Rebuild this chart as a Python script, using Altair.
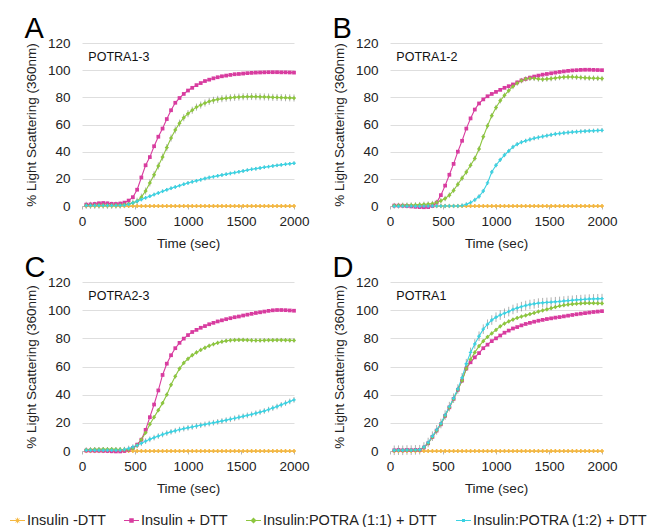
import altair as alt
import pandas as pd

# ---------------- data ----------------
TIME = list(range(40, 2001, 40))  # sampling times (sec), 50 readings

SERIES = ["Insulin -DTT", "Insulin + DTT",
          "Insulin:POTRA (1:1) + DTT", "Insulin:POTRA (1:2) + DTT"]
COLORS = ["#F5B841", "#D83C9F", "#8DC63F", "#3CD2E2"]
PLOT_SHAPES = ["cross", "square", "diamond", "cross"]

NO_DTT = [0.0, 0.0, 0.0, 0.0, 0.0, 0.0, 0.0, 0.0, 0.0, 0.0,
          0.0, 0.0, 0.0, 0.0, 0.0, 0.0, 0.0, 0.0, 0.0, 0.0,
          0.0, 0.0, 0.0, 0.0, 0.0, 0.0, 0.0, 0.0, 0.0, 0.0,
          0.0, 0.0, 0.0, 0.0, 0.0, 0.0, 0.0, 0.0, 0.0, 0.0,
          0.0, 0.0, 0.0, 0.0, 0.0, 0.0, 0.0, 0.0, 0.0, 0.0]

# Panel A: POTRA1-3
A_DTT = [1.0, 1.2, 1.5, 2.0, 2.2, 2.0, 1.6, 1.5, 1.8, 2.5,
         4.0, 6.5, 12, 21, 30, 36, 44, 51, 57, 64,
         70.5, 76, 79.5, 82.5, 85, 87, 89, 90.5, 92, 93,
         94, 94.8, 95.5, 96, 96.5, 97, 97.2, 97.5, 97.8, 98,
         98.2, 98.3, 98.4, 98.5, 98.5, 98.5, 98.4, 98.4, 98.3, 98.2]
A_P11 = [0.5, 0.5, 0.5, 0.6, 0.6, 0.5, 0.5, 0.6, 0.7, 1.0,
         1.5, 2.3, 3.5, 6.5, 11, 17, 23, 29.5, 36, 43,
         50, 56, 61, 65, 68, 70.5, 72.8, 74.3, 75.8, 77,
         77.8, 78.5, 79, 79.4, 79.7, 80, 80.2, 80.4, 80.5, 80.6,
         80.5, 80.4, 80.3, 80.2, 80, 79.9, 79.8, 79.7, 79.6, 79.5]
A_P12 = [0.3, 0.3, 0.3, 0.3, 0.3, 0.3, 0.3, 0.3, 0.4, 0.5,
         1.2, 2.3, 3.5, 4.8, 6, 7.2, 8.4, 9.6, 10.8, 12,
         13, 14, 15, 16, 17, 17.8, 18.6, 19.4, 20.2, 21,
         21.6, 22.2, 22.8, 23.4, 24, 24.6, 25.2, 25.8, 26.4, 27,
         27.5, 28, 28.5, 29, 29.5, 29.9, 30.3, 30.7, 31.1, 31.5]
A_ERR = [0, 0.5, 2.6, 1.3]

# Panel B: POTRA1-2
B_DTT = [0.3, 0.3, 0.2, 0, -0.3, -0.6, -0.8, -0.9, -0.8, 0,
         2.5, 8, 15, 23, 31, 40, 48, 57, 64.5, 71,
         75.5, 78.5, 80.8, 82.5, 84, 85.5, 87, 88.2, 89.5, 91,
         92.5, 93.5, 94.5, 95.3, 96, 96.7, 97.2, 97.7, 98.2, 98.7,
         99.1, 99.5, 99.8, 100, 100.2, 100.3, 100.3, 100.2, 100.1, 100]
B_P11 = [0.3, 0.4, 0.5, 0.6, 0.7, 0.8, 1.0, 1.2, 1.4, 1.8,
         2.6, 3.8, 5.5, 8, 11.5, 16, 20.5, 25, 30, 35,
         42, 51, 59, 66.5, 72.5, 77.5, 81.5, 85, 88, 90.5,
         92.3, 93.5, 94, 94, 93.5, 93.3, 93.5, 93.8, 94.2, 94.6,
         94.9, 95, 95, 94.8, 94.6, 94.4, 94.2, 94.1, 94, 93.8]
B_P12 = [-0.2, -0.2, -0.1, -0.2, -0.1, -0.2, -0.2, -0.1, -0.1, 0,
         0, 0, 0, 0, 0, 0, 0.3, 1.2, 2.5, 4.5,
         7, 11, 17, 25, 30, 34, 37.5, 40.5, 43.5, 45.5,
         47, 48, 49, 49.8, 50.5, 51.2, 51.8, 52.4, 53, 53.4,
         53.8, 54.1, 54.4, 54.7, 54.9, 55.1, 55.3, 55.4, 55.6, 55.7]
B_ERR = [0, 0.5, 2.0, 1.6]

# Panel C: POTRA2-3
C_DTT = [0.3, 0.3, 0.2, 0.2, 0.1, 0, -0.2, -0.3, -0.3, 0,
         0.8, 2.2, 4.5, 8, 15, 24, 33, 43, 54, 62,
         68, 73, 76.8, 79.8, 82.3, 84.5, 86, 87.5, 88.7, 90,
         91, 92, 92.8, 93.6, 94.3, 95, 95.5, 96.2, 96.8, 97.4,
         98, 98.5, 99, 99.5, 99.9, 100.1, 100.1, 100, 99.8, 99.6]
C_P11 = [0.8, 1.0, 1.2, 1.2, 1.3, 1.2, 1.3, 1.2, 1.1, 1.0,
         1.2, 1.8, 4, 8, 13, 19, 24, 29, 34, 40,
         47, 53, 58.5, 62.5, 65.5, 68, 70, 71.8, 73.3, 74.7,
         75.8, 76.8, 77.6, 78.2, 78.6, 78.8, 78.9, 78.9, 78.8, 78.6,
         78.5, 78.5, 78.6, 78.7, 78.7, 78.8, 78.8, 78.7, 78.6, 78.5]
C_P12 = [0.5, 0.5, 0.5, 0.5, 0.5, 0.5, 0.5, 0.5, 0.6, 1.0,
         1.8, 2.8, 4, 5.5, 7, 8.3, 9.5, 10.6, 11.7, 12.7,
         13.6, 14.4, 15.2, 15.9, 16.5, 17.1, 17.7, 18.3, 18.9, 19.5,
         20.1, 20.7, 21.3, 21.9, 22.5, 23.2, 23.9, 24.6, 25.3, 26,
         26.8, 27.6, 28.4, 29.4, 30.5, 31.6, 32.8, 34, 35.2, 36.3]
C_ERR = [0, 0.5, 1.5, 2.0]

# Panel D: POTRA1
D_DTT = [0.5, 0.8, 0.5, 0.8, 0.6, 0.8, 0.8, 2.5, 5.5, 10,
         14.5, 19, 25, 31, 37, 43.5, 50, 58.5, 63, 66.5,
         69.5, 73, 75.5, 78, 80, 82, 84, 85.5, 87, 88,
         89.2, 90.2, 91, 91.8, 92.5, 93.1, 93.7, 94.2, 94.7, 95.1,
         95.6, 96.1, 96.6, 97.1, 97.5, 97.9, 98.3, 98.7, 99, 99.3]
D_P11 = [0.3, 0.5, 0.4, 0.6, 0.5, 0.7, 0.8, 2.5, 5.5, 10,
         14.5, 19, 25, 31, 37, 43.5, 50, 58.5, 65, 70,
         74.5, 78, 81, 83.5, 86, 88.5, 90.5, 92, 93.3, 94.5,
         95.5, 96.3, 97.2, 98, 99, 99.8, 100.6, 101.4, 102.2, 103,
         103.5, 104, 104.3, 104.6, 104.8, 105, 105, 105, 104.9, 104.8]
D_P12 = [0.5, 0.6, 0.5, 0.7, 0.6, 0.8, 0.9, 2.8, 6, 10.5,
         15, 19.5, 25.5, 31.5, 37.5, 44, 52, 62, 70, 76,
         81.5, 86.5, 90, 93, 95, 96.5, 97.8, 99, 100.5, 101.5,
         102.5, 103.3, 104, 104.5, 105, 105.3, 105.5, 105.7, 106, 106.2,
         106.5, 106.8, 107, 107.3, 107.5, 107.7, 107.9, 108, 108.1, 108.2]
D_ERR = [0, 0.6, 1.4, 3.4]

PANELS = [
    ("A", "POTRA1-3", [NO_DTT, A_DTT, A_P11, A_P12], A_ERR, 163),
    ("B", "POTRA1-2", [NO_DTT, B_DTT, B_P11, B_P12], B_ERR, 163),
    ("C", "POTRA2-3", [NO_DTT, C_DTT, C_P11, C_P12], C_ERR, 169),
    ("D", "POTRA1", [NO_DTT, D_DTT, D_P11, D_P12], D_ERR, 169),
]

X_TICKS = [0, 500, 1000, 1500, 2000]
Y_TICKS = [0, 20, 40, 60, 80, 100, 120]

# legend glyphs: short line with the marker on it (unit-square SVG paths)
BAR = "M-1,-0.07H1V0.07H-1Z "
STAR = ("M-0.06,-0.36H0.06V0.36H-0.06Z M-0.36,-0.06H0.36V0.06H-0.36Z "
        "M-0.3,-0.22L-0.22,-0.3L0.3,0.22L0.22,0.3Z M0.22,-0.3L0.3,-0.22L-0.22,0.3L-0.3,0.22Z")
LEGEND_SHAPES = [
    BAR + STAR,
    BAR + "M-0.3,-0.3H0.3V0.3H-0.3Z",
    BAR + "M0,-0.4L0.4,0L0,0.4L-0.4,0Z",
    BAR + "M-0.2,-0.2H0.2V0.2H-0.2Z",
]

FONT = "Liberation Sans"
W = 212

LEGEND = alt.Legend(title=None, orient="none", legendX=-72, legendY=470,
                    direction="horizontal")

XS = alt.Scale(domain=[0, 2000], nice=False, zero=False)
YS = alt.Scale(domain=[0, 120], nice=False)
XAXIS = alt.Axis(values=X_TICKS, format="d", title="Time (sec)", grid=False,
                 labelOverlap=False, labelFlush=False,
                 domainColor="#b5b5b5", tickColor="#b5b5b5", tickSize=3,
                 labelPadding=5, titlePadding=9, labelFontSize=13.5, titleFontSize=13.5)
YAXIS = alt.Axis(values=Y_TICKS, title="% Light Scattering (360nm)",
                 labelOverlap=False, labelFlush=False, gridColor="#dedede",
                 domain=False, ticks=False, labelPadding=12, titlePadding=9,
                 labelFontSize=13.5, titleFontSize=13.5)


def make_panel(letter, label, series_vals, errs, h):
    rows = []
    for name, vals, e in zip(SERIES, series_vals, errs):
        for t, v in zip(TIME, vals):
            rows.append({"t": t, "v": v, "e": e, "series": name})
    df = pd.DataFrame(rows)
    base = alt.Chart(df)

    x = alt.X("t:Q", scale=XS, axis=XAXIS)
    y = alt.Y("v:Q", scale=YS, axis=YAXIS)
    color = alt.Color("series:N", scale=alt.Scale(domain=SERIES, range=COLORS),
                      legend=LEGEND)

    line = base.mark_line(strokeWidth=1.1).encode(x=x, y=y, color=color,
                                                  detail="series:N")
    err = (base.transform_filter("datum.e > 0")
           .transform_calculate(lo="datum.v - datum.e", hi="datum.v + datum.e")
           .mark_rule(color="#3a3a3a", strokeWidth=0.8, opacity=0.5)
           .encode(x=x, y=alt.Y("lo:Q", scale=YS, axis=YAXIS), y2="hi:Q"))
    pts = []
    for name, shp, sz in zip(SERIES, PLOT_SHAPES, [16, 14, 18, 12]):
        pts.append(
            base.transform_filter(alt.datum.series == name)
            .mark_point(filled=True, shape=shp, size=sz, opacity=1)
            .encode(x=x, y=y, color=color)
        )
    leg = (base.transform_filter("false")
           .mark_point(filled=True, opacity=1)
           .encode(x=x, y=y, color=color,
                   shape=alt.Shape("series:N",
                                   scale=alt.Scale(domain=SERIES, range=LEGEND_SHAPES),
                                   legend=LEGEND)))

    lab = alt.Chart(pd.DataFrame({"t": [60], "v": [110], "txt": [label]})).mark_text(
        align="left", baseline="middle", font=FONT, fontSize=12.5, color="#111"
    ).encode(x=x, y=y, text="txt:N")

    return alt.layer(line, err, *pts, leg, lab).properties(
        width=W, height=h,
        title=alt.TitleParams(letter, anchor="start", frame="bounds", font=FONT,
                              fontSize=29, fontWeight="normal", color="#000", offset=-7.5),
    )


charts = [make_panel(*p) for p in PANELS]

chart = alt.vconcat(
    alt.hconcat(charts[0], charts[1], spacing=22),
    alt.hconcat(charts[2], charts[3], spacing=22),
    spacing=3,
).resolve_scale(color="shared", shape="shared").properties(
    padding={"left": 2, "top": 6, "right": 0, "bottom": 0}
).configure_view(stroke=None).configure_axis(
    labelFont=FONT, titleFont=FONT, titleFontWeight="normal",
    labelColor="#222", titleColor="#222", labelOverlap=False,
).configure_legend(
    labelFont=FONT, labelFontSize=14.5, labelColor="#222", symbolSize=225,
    symbolStrokeWidth=0, columnPadding=18, labelOffset=2, labelLimit=300,
)

chart.save("out.html", embed_options={"renderer": "svg", "actions": False})
